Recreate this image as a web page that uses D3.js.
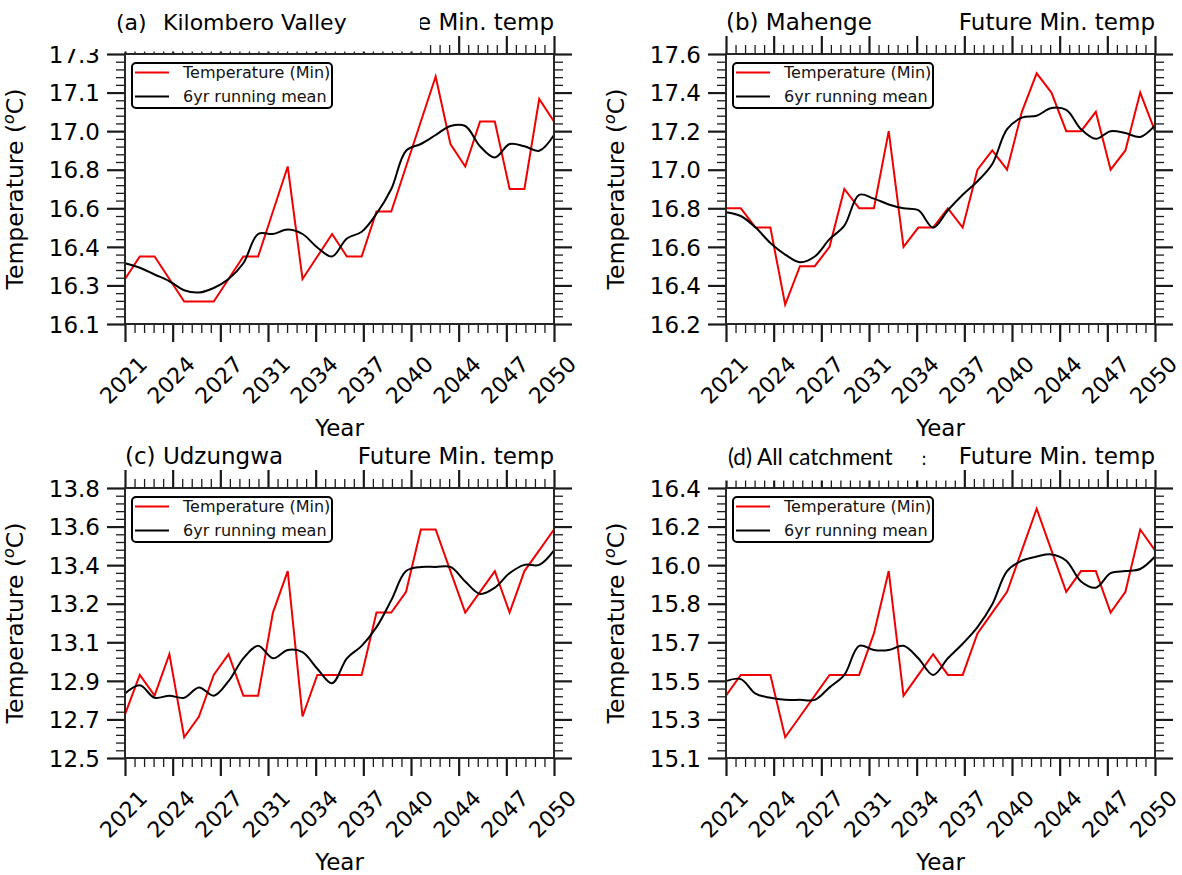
<!DOCTYPE html>
<html>
<head>
<meta charset="utf-8">
<script src="https://cdn.jsdelivr.net/npm/d3@7"></script>
<style>
  body { margin: 0; background: #fff; }
  svg text { font-family: "DejaVu Sans", sans-serif; fill: #000; }
</style>
</head>
<body>
<svg id="fig" width="1182" height="875"></svg>
<script>
// x categories (years) and tick labels
const years = [2021,2022,2023,2024,2025,2026,2027,2028,2029,2030,
               2031,2032,2033,2034,2035,2036,2037,2038,2039,2040,
               2041,2042,2043,2044,2045,2046,2047,2048,2049,2050];
const xTickLabels = ["2021","2024","2027","2031","2034","2037","2040","2044","2047","2050"];

// (a) Kilombero Valley
const yDomainA = [16.1, 17.3];
const yTicksA  = ["16.1","16.3","16.4","16.6","16.8","17.0","17.1","17.3"];
const tempA = [16.3,16.4,16.4,16.3,16.2,16.2,16.2,16.3,16.4,16.4,
               16.6,16.8,16.3,16.4,16.5,16.4,16.4,16.6,16.6,16.8,
               17.0,17.2,16.9,16.8,17.0,17.0,16.7,16.7,17.1,17.0];
const meanA = [16.37,16.35,16.32,16.29,16.25,16.24,16.26,16.30,16.37,16.50,
               16.50,16.52,16.50,16.44,16.40,16.48,16.51,16.59,16.70,16.87,
               16.90,16.94,16.98,16.98,16.89,16.84,16.90,16.89,16.87,16.94];

// (b) Mahenge
const yDomainB = [16.2, 17.6];
const yTicksB  = ["16.2","16.4","16.6","16.8","17.0","17.2","17.4","17.6"];
const tempB = [16.8,16.8,16.7,16.7,16.3,16.5,16.5,16.6,16.9,16.8,
               16.8,17.2,16.6,16.7,16.7,16.8,16.7,17.0,17.1,17.0,
               17.3,17.5,17.4,17.2,17.2,17.3,17.0,17.1,17.4,17.2];
const meanB = [16.78,16.76,16.70,16.62,16.56,16.52,16.55,16.64,16.71,16.87,
               16.85,16.82,16.80,16.79,16.70,16.79,16.87,16.94,17.03,17.21,
               17.27,17.28,17.32,17.31,17.21,17.16,17.20,17.19,17.17,17.23];

// (c) Udzungwa
const yDomainC = [12.5, 13.8];
const yTicksC  = ["12.5","12.7","12.9","13.1","13.2","13.4","13.6","13.8"];
const tempC = [12.71,12.9,12.8,13.0,12.6,12.7,12.9,13.0,12.8,12.8,
               13.2,13.4,12.7,12.9,12.9,12.9,12.9,13.2,13.2,13.3,
               13.6,13.6,13.4,13.2,13.3,13.4,13.2,13.4,13.5,13.6];
const meanC = [12.81,12.85,12.79,12.80,12.79,12.84,12.80,12.87,12.98,13.04,
               12.98,13.02,13.01,12.93,12.86,12.98,13.04,13.13,13.26,13.40,
               13.42,13.42,13.42,13.35,13.29,13.32,13.39,13.43,13.43,13.50];

// (d) All catchment
const yDomainD = [15.1, 16.4];
const yTicksD  = ["15.1","15.3","15.5","15.7","15.8","16.0","16.2","16.4"];
const tempD = [15.4,15.5,15.5,15.5,15.2,15.3,15.4,15.5,15.5,15.5,
               15.7,16.0,15.4,15.5,15.6,15.5,15.5,15.7,15.8,15.9,
               16.1,16.3,16.1,15.9,16.0,16.0,15.8,15.9,16.2,16.1];
const meanD = [15.47,15.48,15.41,15.39,15.38,15.38,15.38,15.44,15.50,15.64,
               15.62,15.62,15.64,15.58,15.50,15.58,15.65,15.73,15.84,16.00,
               16.05,16.07,16.08,16.05,15.95,15.92,15.99,16.00,16.01,16.07];

const legendLabels = ["Temperature (Min)", "6yr running mean"];
const rightTitle = "Future Min. temp";

const panels = [
  { left: 125, top: 54,  title: "", yDomain: yDomainA, yTicks: yTicksA, temp: tempA, mean: meanA },
  { left: 726, top: 54,  title: "(b) Mahenge", yDomain: yDomainB, yTicks: yTicksB, temp: tempB, mean: meanB },
  { left: 125, top: 488, title: "(c) Udzungwa", yDomain: yDomainC, yTicks: yTicksC, temp: tempC, mean: meanC },
  { left: 726, top: 488, title: "", yDomain: yDomainD, yTicks: yTicksD, temp: tempD, mean: meanD }
];

const W = 429, H = 270;
const svg = d3.select("#fig");
const linspace = (a, b, n) => d3.range(n).map(i => a + i * (b - a) / (n - 1));

function styleAxis(sel, width) {
  sel.select(".domain").remove();
  sel.selectAll(".tick line").attr("stroke", "#1a1a1a").attr("stroke-width", width);
}

panels.forEach(p => {
  const g = svg.append("g").attr("transform", `translate(${p.left},${p.top})`);
  const x = d3.scaleLinear().domain([years[0], years[years.length - 1]]).range([0, W]);
  const y = d3.scaleLinear().domain(p.yDomain).range([H, 0]);

  const xMajor = linspace(x.domain()[0], x.domain()[1], xTickLabels.length);
  const xMinor = linspace(x.domain()[0], x.domain()[1], (xTickLabels.length - 1) * 5 + 1).filter((d, i) => i % 5);
  const yMajor = linspace(p.yDomain[0], p.yDomain[1], p.yTicks.length);
  const yMinor = linspace(p.yDomain[0], p.yDomain[1], (p.yTicks.length - 1) * 5 + 1).filter((d, i) => i % 5);

  // minor ticks
  g.append("g").attr("transform", `translate(0,${H})`)
    .call(d3.axisBottom(x).tickValues(xMinor).tickSize(9).tickFormat("")).call(styleAxis, 1.3);
  g.append("g").call(d3.axisTop(x).tickValues(xMinor).tickSize(9).tickFormat("")).call(styleAxis, 1.3);
  g.append("g").call(d3.axisLeft(y).tickValues(yMinor).tickSize(9).tickFormat("")).call(styleAxis, 1.3);
  g.append("g").attr("transform", `translate(${W},0)`)
    .call(d3.axisRight(y).tickValues(yMinor).tickSize(9).tickFormat("")).call(styleAxis, 1.3);

  // major ticks
  const bx = g.append("g").attr("transform", `translate(0,${H})`)
    .call(d3.axisBottom(x).tickValues(xMajor).tickSize(18).tickFormat((d, i) => xTickLabels[i]))
    .call(styleAxis, 2.2);
  bx.selectAll(".tick text")
    .attr("y", 0).attr("dy", "0.35em")
    .attr("text-anchor", "middle")
    .attr("transform", "translate(-2,56) rotate(-45)")
    .style("font-size", "22px");
  g.append("g").call(d3.axisTop(x).tickValues(xMajor).tickSize(18).tickFormat("")).call(styleAxis, 2.2);
  const ly = g.append("g")
    .call(d3.axisLeft(y).tickValues(yMajor).tickSize(18).tickPadding(7).tickFormat((d, i) => p.yTicks[i]))
    .call(styleAxis, 2.2);
  ly.selectAll(".tick text").style("font-size", "23px").attr("dy", "0.36em");
  g.append("g").attr("transform", `translate(${W},0)`)
    .call(d3.axisRight(y).tickValues(yMajor).tickSize(18).tickFormat("")).call(styleAxis, 2.2);

  // lines
  g.append("path").datum(p.temp)
    .attr("fill", "none").attr("stroke", "#f00000").attr("stroke-width", 2)
    .attr("d", d3.line().x((d, i) => x(years[i])).y(d => y(d)));
  g.append("path").datum(p.mean)
    .attr("fill", "none").attr("stroke", "#000").attr("stroke-width", 2)
    .attr("d", d3.line().x((d, i) => x(years[i])).y(d => y(d)).curve(d3.curveCatmullRom.alpha(0.5)));

  // frame
  g.append("rect").attr("width", W).attr("height", H)
    .attr("fill", "none").attr("stroke", "#262626").attr("stroke-width", 2);

  // legend
  const lg = g.append("g").attr("transform", "translate(7,9)");
  lg.append("rect").attr("width", 200).attr("height", 45).attr("rx", 4)
    .attr("fill", "#fff").attr("stroke", "#000").attr("stroke-width", 2);
  [["#f00000", 9.5], ["#000", 33.5]].forEach(([c, ly2], i) => {
    lg.append("line").attr("x1", 3).attr("x2", 37).attr("y1", ly2).attr("y2", ly2)
      .attr("stroke", c).attr("stroke-width", 2);
    lg.append("text").attr("x", 51).attr("y", ly2).attr("dy", "0.36em")
      .style("font-size", "16px").style("fill", "#111").text(legendLabels[i]);
  });

  // axis labels
  const yl = g.append("text")
    .attr("transform", `translate(-102,${H / 2}) rotate(-90)`)
    .attr("text-anchor", "middle").style("font-size", "23.5px");
  yl.append("tspan").text("Temperature (");
  yl.append("tspan").attr("dy", -9).style("font-size", "16px").style("font-style", "italic").text("o");
  yl.append("tspan").attr("dy", 9).text("C)");
  g.append("text").attr("x", W / 2).attr("y", H + 112).attr("text-anchor", "middle")
    .style("font-size", "23px").text("Year");

  // titles
  g.append("text").attr("x", 0).attr("y", -24).style("font-size", "23px").text(p.title);
  g.append("text").attr("x", W).attr("y", -24).attr("text-anchor", "end")
    .style("font-size", "23px").text(rightTitle);
});

// pasted-over labels for (a) and (d)
svg.append("rect").attr("x", 60).attr("y", 0).attr("width", 360).attr("height", 49).attr("fill", "#fff");
svg.append("rect").attr("x", 100).attr("y", 0).attr("width", 320).attr("height", 51.5).attr("fill", "#fff");
svg.append("rect").attr("x", 418).attr("y", 33).attr("width", 9).attr("height", 18.5).attr("fill", "#fff");
svg.append("text").attr("x", 116).attr("y", 30).style("font-size", "22px").text("(a)");
svg.append("text").attr("x", 163).attr("y", 30).style("font-size", "22px").text("Kilombero Valley");

svg.append("rect").attr("x", 700).attr("y", 440).attr("width", 260).attr("height", 40.5).attr("fill", "#fff");
svg.append("text").attr("x", 728).attr("y", 465).style("font-family", "Lato, sans-serif")
  .style("font-size", "22.5px").text("(d) All catchment");
svg.append("text").attr("x", 921).attr("y", 465).style("font-size", "18px").text(":");
</script>
</body>
</html>
